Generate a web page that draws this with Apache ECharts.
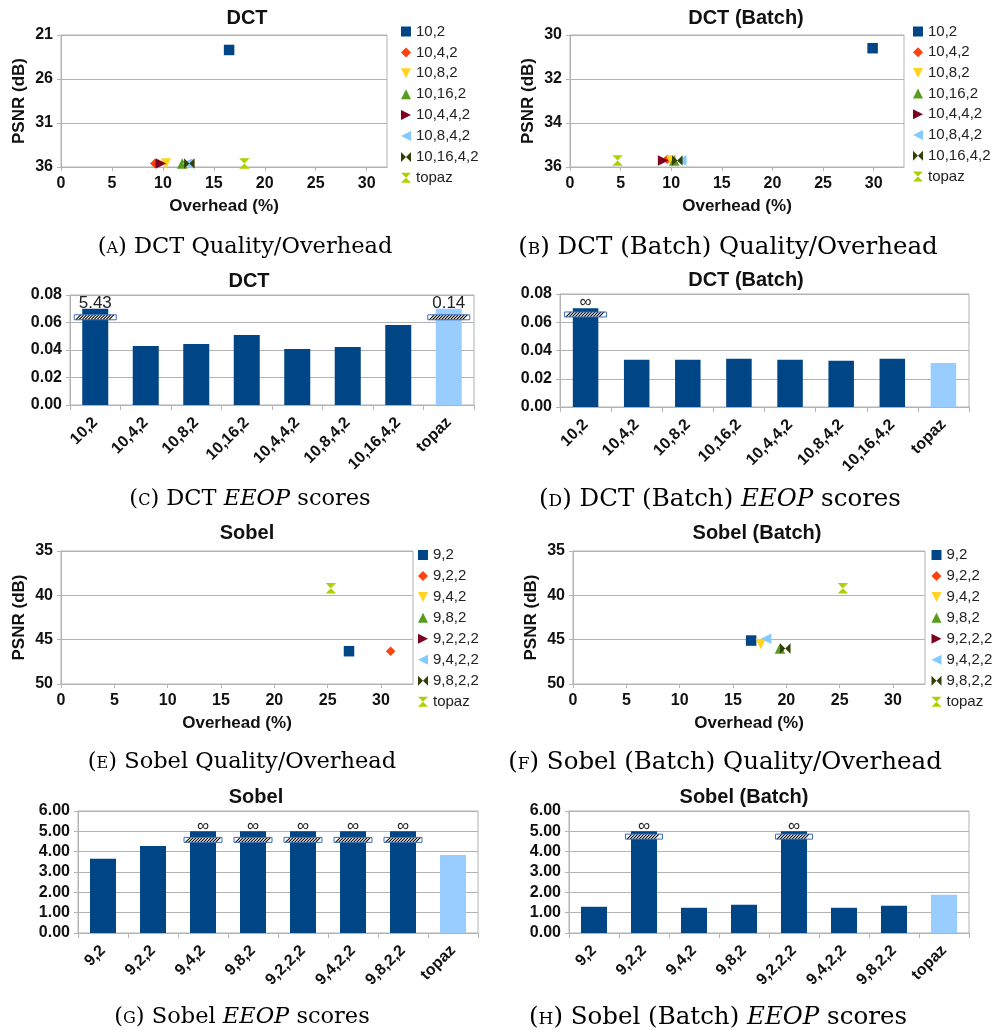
<!DOCTYPE html>
<html>
<head>
<meta charset="utf-8">
<script src="https://cdn.jsdelivr.net/npm/echarts@6/dist/echarts.min.js"></script>
<style>
  html, body { margin: 0; padding: 0; background: #fff; }
  #wrap { position: relative; width: 996px; height: 1030px; overflow: hidden; }
  #chart { position: absolute; left: 0; top: 0; width: 996px; height: 1030px; }
  .cap { position: absolute; transform: translate(-50%, -50%); white-space: nowrap;
         font-family: "DejaVu Serif", "Liberation Serif", serif; font-size: 22.5px; color: #000; }
  .cap.wide { font-size: 24.5px; }
  .sc { font-variant: small-caps; }
</style>
</head>
<body>
<div id="wrap">
  <div id="chart"></div>
  <div class="cap" style="left:245px; top:245px">(<span class="sc">a</span>) DCT Quality/Overhead</div>
  <div class="cap wide" style="left:728px; top:245px">(<span class="sc">b</span>) DCT (Batch) Quality/Overhead</div>
  <div class="cap" style="left:250px; top:497px">(<span class="sc">c</span>) DCT <i>EEOP</i> scores</div>
  <div class="cap wide" style="left:720px; top:497px">(<span class="sc">d</span>) DCT (Batch) <i>EEOP</i> scores</div>
  <div class="cap" style="left:242px; top:760px">(<span class="sc">e</span>) Sobel Quality/Overhead</div>
  <div class="cap wide" style="left:725px; top:760px">(<span class="sc">f</span>) Sobel (Batch) Quality/Overhead</div>
  <div class="cap" style="left:242px; top:1015px">(<span class="sc">g</span>) Sobel <i>EEOP</i> scores</div>
  <div class="cap wide" style="left:718px; top:1015px">(<span class="sc">h</span>) Sobel (Batch) <i>EEOP</i> scores</div>
</div>
<script>
// ---- configurations ----
const dctConfigs = ['10,2', '10,4,2', '10,8,2', '10,16,2', '10,4,4,2', '10,8,4,2', '10,16,4,2', 'topaz'];
const sobelConfigs = ['9,2', '9,2,2', '9,4,2', '9,8,2', '9,2,2,2', '9,4,2,2', '9,8,2,2', 'topaz'];

// ---- quality / overhead: overhead (%) and PSNR (dB); null = no finite PSNR ----
const dctOverhead = [16.5, 9.2, 10.3, 11.9, 9.8, 12.4, 12.6, 18.0];
const dctPsnr = [22.7, 35.6, 35.6, 35.6, 35.6, 35.6, 35.6, 35.6];
const dctBatchOverhead = [29.9, 9.6, 10.0, 10.3, 9.2, 11.0, 10.6, 4.7];
const dctBatchPsnr = [30.6, 35.65, 35.7, 35.7, 35.7, 35.7, 35.7, 35.7];
const sobelOverhead = [27.0, 30.9, null, null, null, null, null, 25.3];
const sobelPsnr = [46.3, 46.3, null, null, null, null, null, 39.2];
const sobelBatchOverhead = [16.7, null, 17.6, 19.4, null, 18.1, 19.9, 25.3];
const sobelBatchPsnr = [45.1, null, 45.5, 46.0, null, 44.9, 46.0, 39.2];

// ---- EEOP scores ----
const dctEeop = [5.43, 0.0429, 0.0444, 0.0509, 0.0407, 0.0422, 0.0582, 0.14];
const dctBatchEeop = [Infinity, 0.0335, 0.0335, 0.0342, 0.0335, 0.0328, 0.0342, 0.0312];
const sobelEeop = [3.65, 4.28, Infinity, Infinity, Infinity, Infinity, Infinity, 3.84];
const sobelBatchEeop = [1.29, Infinity, 1.24, 1.39, Infinity, 1.24, 1.34, 1.88];

// ---- tick labels ----
const overheadTicks = [0, 5, 10, 15, 20, 25, 30];

// ---- styling ----
const FONT = '"Liberation Sans", Arial, sans-serif';
const LINE_GRAY = '#b3b3b3';
const INK = '#111';
const SERIES_COLORS = ['#004586', '#ff420e', '#ffd320', '#579d1c', '#7e0021', '#83caff', '#314004', '#aecf00'];
const SERIES_SYMBOLS = [
  'rect',
  'diamond',
  'path://M0,0L10,0L5,10Z',                 // triangle down
  'path://M5,0L10,10L0,10Z',                // triangle up
  'path://M0,0L10,5L0,10Z',                 // triangle right
  'path://M10,0L0,5L10,10Z',                // triangle left
  'path://M0,0L5,5L0,10ZM10,0L5,5L10,10Z',  // bow tie
  'path://M0,0L10,0L5,5ZM0,10L10,10L5,5Z'   // hourglass
];
const BAR_DARK = '#004586';
const BAR_LIGHT = '#99ccff';

const option = {
  animation: false,
  textStyle: { fontFamily: FONT },
  grid: [], xAxis: [], yAxis: [], series: [], legend: [], graphic: []
};

function addTitle(text, cx, cy) {
  option.graphic.push({
    type: 'text', x: cx, y: cy, silent: true,
    style: {
      text: text, fontFamily: FONT, fontSize: 20, fontWeight: 'bold', fill: INK,
      align: 'center', verticalAlign: 'middle', textAlign: 'center', textVerticalAlign: 'middle'
    }
  });
}

const tickLabelStyle = { fontFamily: FONT, fontSize: 16, fontWeight: 'bold', color: INK };
const axisNameStyle = { fontFamily: FONT, fontSize: 17, fontWeight: 'bold', color: INK };

function scatterPanel(p) {
  const k = option.grid.length;
  option.grid.push({
    left: p.left, top: p.top, width: p.width, height: p.height,
    show: true, borderColor: LINE_GRAY, borderWidth: 1, outerBoundsMode: 'none'
  });
  option.xAxis.push({
    gridIndex: k, type: 'value', min: 0, max: p.xMax, interval: 5,
    axisLine: { show: true, onZero: false, lineStyle: { color: LINE_GRAY } },
    axisTick: { show: true, length: 4, lineStyle: { color: LINE_GRAY }, customValues: overheadTicks },
    axisLabel: Object.assign({ margin: 9, customValues: overheadTicks }, tickLabelStyle),
    splitLine: { show: false },
    name: 'Overhead (%)', nameLocation: 'middle', nameGap: 31, nameTextStyle: axisNameStyle
  });
  option.yAxis.push({
    gridIndex: k, type: 'value', inverse: true, min: p.yMin, max: p.yMax, interval: p.yInterval,
    axisLine: { show: true, onZero: false, lineStyle: { color: LINE_GRAY } },
    axisTick: { show: true, length: 4, lineStyle: { color: LINE_GRAY } },
    axisLabel: Object.assign({ margin: 8 }, tickLabelStyle),
    splitLine: { show: true, lineStyle: { color: LINE_GRAY } },
    name: 'PSNR (dB)', nameLocation: 'middle', nameRotate: 90, nameGap: 33, nameTextStyle: axisNameStyle
  });
  p.names.forEach(function (nm, i) {
    const x = p.xs[i], y = p.ys[i];
    option.series.push({
      type: 'scatter', name: nm, xAxisIndex: k, yAxisIndex: k,
      symbol: SERIES_SYMBOLS[i], symbolSize: i === 1 ? 9.5 : 10.5,
      itemStyle: { color: SERIES_COLORS[i], opacity: 1 },
      emphasis: { disabled: true },
      data: (x == null || y == null) ? [] : [[x, y]]
    });
  });
  option.legend.push({
    orient: 'vertical', left: p.legendLeft, top: p.legendTop, padding: 0,
    itemWidth: 10, itemHeight: 10, itemGap: p.legendGap, selectedMode: false,
    data: p.names.slice(),
    textStyle: { fontFamily: FONT, fontSize: 15, color: '#222' }
  });
  addTitle(p.title, p.titleX, p.titleY);
}

function barPanel(p) {
  const k = option.grid.length;
  option.grid.push({
    left: p.left, top: p.top, width: p.width, height: p.height,
    show: true, borderColor: LINE_GRAY, borderWidth: 1, outerBoundsMode: 'none'
  });
  option.xAxis.push({
    gridIndex: k, type: 'category', data: p.names, boundaryGap: true,
    axisLine: { show: true, lineStyle: { color: LINE_GRAY } },
    axisTick: { show: true, length: 5, alignWithLabel: false, interval: 0, lineStyle: { color: LINE_GRAY } },
    axisLabel: Object.assign({ rotate: 45, interval: 0, margin: 15 }, tickLabelStyle),
    splitLine: { show: false }
  });
  option.yAxis.push({
    gridIndex: k, type: 'value', min: 0, max: p.yMax, interval: p.yInterval,
    axisLine: { show: true, lineStyle: { color: LINE_GRAY } },
    axisTick: { show: true, length: 4, lineStyle: { color: LINE_GRAY } },
    axisLabel: Object.assign({ margin: 8, formatter: function (v) { return v.toFixed(2); } }, tickLabelStyle),
    splitLine: { show: true, lineStyle: { color: LINE_GRAY } }
  });
  const last = p.values.length - 1;
  option.series.push({
    type: 'bar', name: 'EEOP ' + p.title, xAxisIndex: k, yAxisIndex: k,
    barWidth: p.barWidth, emphasis: { disabled: true },
    label: { show: false, position: 'top', distance: -3, fontFamily: FONT, fontSize: 17, color: '#222' },
    data: p.values.map(function (v, i) {
      const capped = v > p.cap;
      return {
        value: Math.min(v, p.cap),
        itemStyle: { color: i === last ? BAR_LIGHT : BAR_DARK },
        label: capped ? { show: true, formatter: v === Infinity ? '∞' : String(v) } : { show: false }
      };
    })
  });
  // axis-break marks on bars that run past the top of the scale
  const breaks = [];
  p.values.forEach(function (v, i) { if (v > p.cap) breaks.push([i, p.breakAt]); });
  option.series.push({
    type: 'custom', xAxisIndex: k, yAxisIndex: k, silent: true, z: 5,
    data: breaks,
    renderItem: function (params, api) {
      const c = api.coord([api.value(0), api.value(1)]);
      const w = p.breakWidth, h = 5;
      const x0 = c[0] - w / 2, y0 = c[1] - h / 2;
      const children = [{ type: 'rect', shape: { x: x0, y: y0, width: w, height: h }, style: { fill: '#fff' } }];
      for (let x = x0 + 1.5; x + h <= x0 + w - 1; x += 3) {
        children.push({ type: 'line', shape: { x1: x, y1: y0 + h, x2: x + h, y2: y0 }, style: { stroke: '#000', lineWidth: 1.1 } });
      }
      children.push({ type: 'rect', shape: { x: x0, y: y0, width: w, height: h }, style: { fill: 'none', stroke: '#3f6fb5', lineWidth: 1 } });
      return { type: 'group', children: children };
    }
  });
  addTitle(p.title, p.titleX, p.titleY);
}

// ---- quality / overhead panels ----
scatterPanel({
  title: 'DCT', titleX: 247, titleY: 18,
  left: 61, top: 35, width: 326, height: 132, xMax: 32,
  yMin: 21, yMax: 36, yInterval: 5,
  names: dctConfigs, xs: dctOverhead, ys: dctPsnr,
  legendLeft: 401, legendTop: 24, legendGap: 5.9
});
scatterPanel({
  title: 'DCT (Batch)', titleX: 746, titleY: 18,
  left: 570, top: 35, width: 334, height: 132, xMax: 33,
  yMin: 30, yMax: 36, yInterval: 2,
  names: dctConfigs, xs: dctBatchOverhead, ys: dctBatchPsnr,
  legendLeft: 913, legendTop: 24, legendGap: 5.7
});
scatterPanel({
  title: 'Sobel', titleX: 247, titleY: 533,
  left: 61, top: 551, width: 352, height: 133, xMax: 33,
  yMin: 35, yMax: 50, yInterval: 5,
  names: sobelConfigs, xs: sobelOverhead, ys: sobelPsnr,
  legendLeft: 418, legendTop: 547.5, legendGap: 5.95
});
scatterPanel({
  title: 'Sobel (Batch)', titleX: 757, titleY: 533,
  left: 573, top: 551, width: 352, height: 133, xMax: 33,
  yMin: 35, yMax: 50, yInterval: 5,
  names: sobelConfigs, xs: sobelBatchOverhead, ys: sobelBatchPsnr,
  legendLeft: 931.5, legendTop: 547.5, legendGap: 5.95
});

// ---- EEOP panels ----
barPanel({
  title: 'DCT', titleX: 249, titleY: 281,
  left: 70, top: 295, width: 404, height: 110,
  yMax: 0.08, yInterval: 0.02, cap: 0.07, breakAt: 0.0638, breakWidth: 42, barWidth: 26,
  names: dctConfigs, values: dctEeop
});
barPanel({
  title: 'DCT (Batch)', titleX: 746, titleY: 280,
  left: 560, top: 294, width: 409, height: 113,
  yMax: 0.08, yInterval: 0.02, cap: 0.07, breakAt: 0.0655, breakWidth: 42, barWidth: 25.5,
  names: dctConfigs, values: dctBatchEeop
});
barPanel({
  title: 'Sobel', titleX: 256, titleY: 797,
  left: 78, top: 811, width: 400, height: 122,
  yMax: 6, yInterval: 1, cap: 5, breakAt: 4.58, breakWidth: 38, barWidth: 26,
  names: sobelConfigs, values: sobelEeop
});
barPanel({
  title: 'Sobel (Batch)', titleX: 744, titleY: 797,
  left: 569, top: 811, width: 400, height: 122,
  yMax: 6, yInterval: 1, cap: 5, breakAt: 4.74, breakWidth: 37, barWidth: 26,
  names: sobelConfigs, values: sobelBatchEeop
});

const chart = echarts.init(document.getElementById('chart'), null, { renderer: 'canvas' });
chart.setOption(option);
</script>
</body>
</html>
